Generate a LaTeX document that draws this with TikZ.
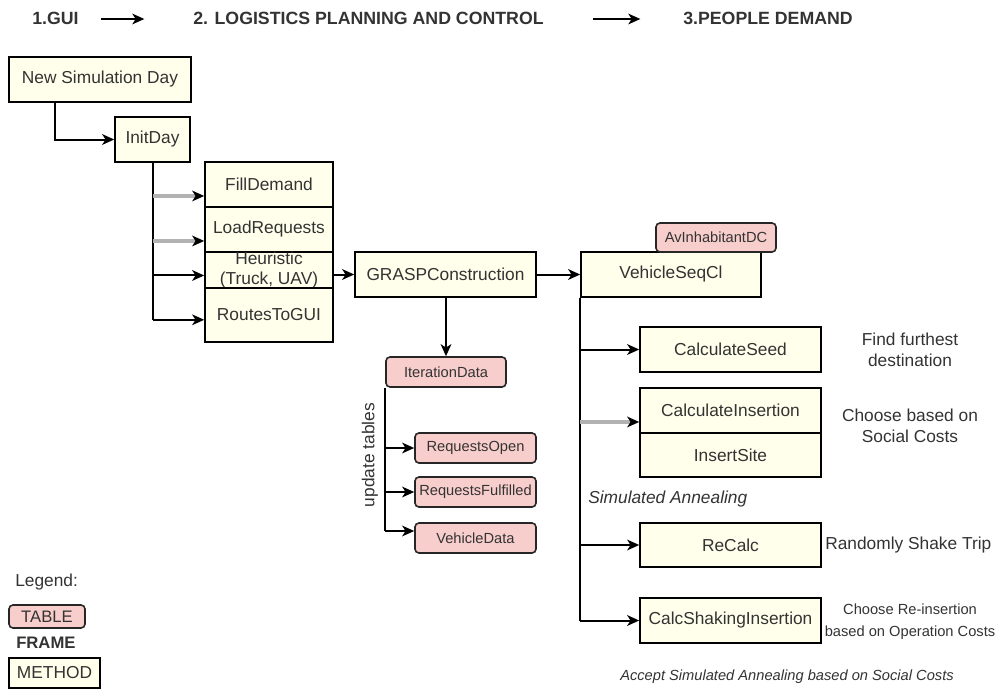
\documentclass[tikz,border=0pt]{standalone}
\usepackage{fontspec}
\setmainfont{Liberation Sans}
\usetikzlibrary{arrows.meta,calc}
\definecolor{methodfill}{HTML}{FFFFEC}
\definecolor{tablefill}{HTML}{F8CECC}
\definecolor{ink}{HTML}{333333}

\begin{document}
\begin{tikzpicture}[x=0.75pt,y=-0.75pt,
  method/.style={draw=black, fill=methodfill, line width=1.2pt, text=ink,
    font=\fontsize{13}{15.5}\selectfont, inner sep=0pt, align=center,
    minimum height=33.75pt},
  tbl/.style={draw=black!85, fill=tablefill, rounded corners=3pt, line width=1.2pt,
    text=ink, font=\fontsize{11}{13}\selectfont, inner sep=0pt,
    minimum height=22.5pt},
  tip/.style={-{Stealth[length=9pt,width=8pt,inset=2.5pt,color=black]}},
  arr/.style={line width=1.5pt, tip},
  garr/.style={line width=2.3pt, draw=gray!60, tip},
  wire/.style={line width=1.5pt},
  note/.style={text=ink, font=\fontsize{13}{15.75}\selectfont, inner sep=0pt, align=center},
  smallnote/.style={text=ink, font=\fontsize{11}{16.5}\selectfont, inner sep=0pt, align=center},
  head/.style={text=ink, font=\bfseries\fontsize{13.3}{16}\selectfont, inner sep=0pt, anchor=west}]

\useasboundingbox (0,0) rectangle (1006,689);

% ---- header ----
\node[head] (h1) at (32,18) {1.GUI};
\node[head] (h2) at (193,18) {2. LOGISTICS PLANNING AND CONTROL};
\node[head] (h3) at (683,18) {3.PEOPLE DEMAND};
\draw[line width=1.5pt, tip] ([xshift=16.5pt]h1.east |- 0,19) -- ([xshift=-36.5pt]h2.west |- 0,19);
\draw[line width=1.5pt, tip] ([xshift=37pt]h2.east |- 0,19) -- ([xshift=-32pt]h3.west |- 0,19);

% ---- GUI frame ----
\node[method, minimum width=136.5pt] (nsd) at (100,79.5) {New Simulation Day};
\node[method, minimum width=56.25pt] (init) at (152.5,139.5) {InitDay};
\draw[arr] ([xshift=-34pt]nsd.south) |- (init.west);

% ---- logistics stack ----
\node[method, minimum width=96pt] (fill) at (269,184.5) {FillDemand};
\node[method, minimum width=96pt] (load) at (269,229.5) {LoadRequests};
\node[method, minimum width=96pt, minimum height=27pt, font=\fontsize{13}{14.5}\selectfont] (heur) at (269,270) {Heuristic\\(Truck, UAV)};
\node[method, minimum width=96pt, minimum height=40.5pt] (routes) at (269,315) {RoutesToGUI};

\coordinate (fa) at ([yshift=-8.6pt]fill.west);
\coordinate (la) at ([yshift=-8.6pt]load.west);
\coordinate (ha) at ([yshift=-4.1pt]heur.west);
\coordinate (ra) at ([yshift=-3.6pt]routes.west);
\draw[wire] (init.south) -- (init.south |- ra);
\draw[garr] (init.south |- fa) -- (fa);
\draw[garr] (init.south |- la) -- (la);
\draw[arr] (init.south |- ha) -- (ha);
\draw[arr] (init.south |- ra) -- (ra);

% ---- GRASP ----
\node[method, minimum width=135.75pt] (grasp) at (445.5,274.5) {GRASPConstruction};
\draw[arr] (heur.east |- grasp.west) -- (grasp.west);

\node[method, minimum width=135pt] (vsc) at (671,274.5) {VehicleSeqCl};
\node[tbl, minimum width=90pt, minimum height=21.75pt] (avi) at (716,237.5) {AvInhabitantDC};
\draw[arr] (grasp.east) -- (vsc.west);

% ---- tables updated by GRASP ----
\node[tbl, minimum width=90pt] (iter) at (446,372) {IterationData};
\node[tbl, minimum width=90.75pt] (ropen) at (475.5,448) {RequestsOpen};
\node[tbl, minimum width=90.75pt] (rful) at (475.5,492) {RequestsFulfilled};
\node[tbl, minimum width=90.75pt] (vdata) at (475.5,538) {VehicleData};
\draw[arr] (grasp.south -| iter.north) -- (iter.north);

\coordinate (va) at ([yshift=5.25pt]vdata.west);
\draw[wire] (iter.south west) -- (iter.south west |- va);
\draw[arr] (iter.south west |- ropen.west) -- (ropen.west);
\draw[arr] (iter.south west |- rful.west) -- (rful.west);
\draw[arr] (iter.south west |- va) -- (va);
\node[note, rotate=90] (upd) at (370,455) {update tables};

% ---- vehicle sequencing ----
\node[method, minimum width=135.75pt] (seed) at (730.5,349.5) {CalculateSeed};
\node[method, minimum width=135.75pt] (cins) at (730.5,410.5) {CalculateInsertion};
\node[method, minimum width=135.75pt, minimum height=33pt] (isite) at (730.5,455) {InsertSite};
\node[method, minimum width=135.75pt, minimum height=33pt] (recalc) at (730.5,545) {ReCalc};
\node[method, minimum width=135.75pt] (shake) at (730.5,620.5) {CalcShakingInsertion};

\coordinate (ca) at ([yshift=-8.6pt]cins.west);
\draw[wire] (vsc.south west) -- (vsc.south west |- shake.west);
\draw[arr] (vsc.south west |- seed.west) -- (seed.west);
\draw[garr] (vsc.south west |- ca) -- (ca);
\draw[arr] (vsc.south west |- recalc.west) -- (recalc.west);
\draw[arr] (vsc.south west |- shake.west) -- (shake.west);

\node[note] (n1) at (910,349.5) {Find furthest\\destination};
\node[note] (n2) at (910,426) {Choose based on\\Social Costs};
\node[note, anchor=west, font=\itshape\fontsize{13}{15.75}\selectfont] (sim) at (588,499) {Simulated Annealing};
\node[note, anchor=west] (n3) at (825,545) {Randomly Shake Trip};
\node[smallnote] (n4) at (910,622) {Choose Re-insertion\\based on Operation Costs};
\node[smallnote, font=\itshape\fontsize{11}{13}\selectfont] (acc) at (787,677) {Accept Simulated Annealing based on Social Costs};

% ---- legend ----
\node[note, anchor=west] (leg) at (15,582) {Legend:};
\node[tbl, minimum width=57pt, minimum height=17.25pt, font=\fontsize{12.5}{14}\selectfont] (lt) at (47,616.5) {TABLE};
\node[note, anchor=west, font=\bfseries\fontsize{12.5}{14}\selectfont] (lf) at (16,643) {FRAME};
\node[method, minimum width=68.25pt, minimum height=22.5pt] (lm) at (54.5,673) {METHOD};
\end{tikzpicture}
\end{document}
